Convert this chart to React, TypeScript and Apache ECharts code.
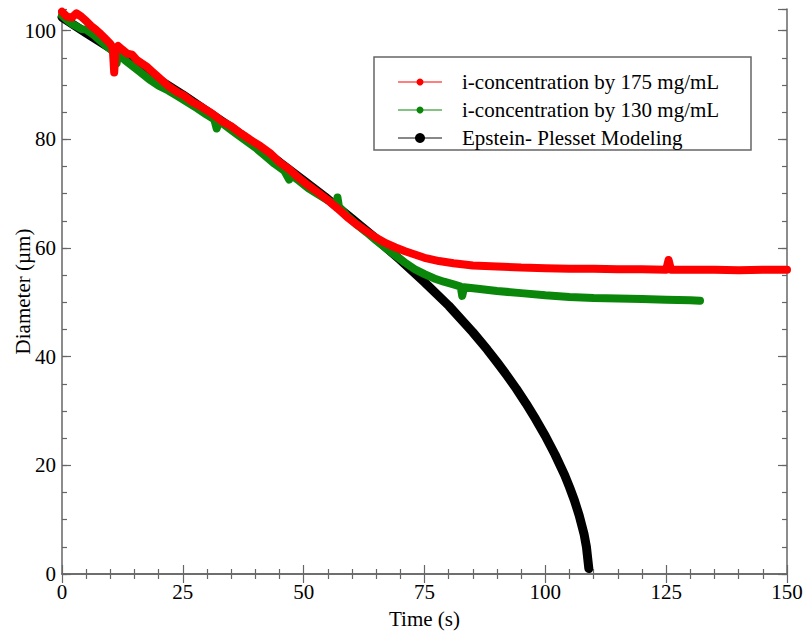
import React, { useEffect, useRef } from "react";
import * as echarts from "echarts";

// Epstein-Plesset model
const modelTime = [0, 5, 10, 15, 20, 25, 30, 35, 40, 45, 50, 55, 60, 65, 70, 75, 80, 85, 88, 90, 92, 94, 96, 98, 100, 102, 104, 105, 106, 107, 108, 108.5, 109];
const modelDiam = [102.5, 99.6, 96.8, 93.9, 91.0, 88.2, 85.2, 82.2, 79.0, 75.8, 72.4, 69.0, 65.4, 61.7, 57.8, 53.7, 49.4, 44.5, 41.3, 39.0, 36.6, 34.1, 31.4, 28.5, 25.4, 22.0, 18.2, 16.0, 13.6, 10.8, 7.4, 5.0, 1.0];

// i-concentration by 175 mg/mL
const redTime = [0, 1, 2, 3, 4, 5, 6, 7, 8, 9, 10, 10.5, 10.8, 11.1, 11.6, 12.5, 13.5, 14.5, 15.5, 16.5, 17.5, 18.5, 19.5, 21, 22, 23, 24, 25, 27, 29, 31, 33, 35, 37, 39, 41, 43, 45, 47, 49, 51, 53, 55, 57, 59, 61, 63, 65, 67, 69, 71, 73, 75, 78, 81, 85, 90, 95, 100, 105, 110, 115, 120, 125, 125.5, 126, 130, 135, 140, 145, 150];
const redDiam = [103.5, 102.6, 102.4, 103.2, 102.6, 101.8, 100.9, 100.2, 99.4, 98.5, 97.6, 96.8, 92.3, 96.8, 97.2, 96.5, 95.8, 95.6, 94.6, 94.0, 93.4, 92.6, 91.8, 90.6, 89.8, 89.2, 88.6, 88.2, 86.9, 85.9, 84.8, 83.4, 82.4, 81.1, 79.9, 78.8, 77.5, 75.8, 74.5, 72.9, 71.5, 70.2, 68.8, 67.3, 65.7, 64.3, 63.1, 61.9, 60.9, 60.1, 59.4, 58.8, 58.2, 57.6, 57.2, 56.8, 56.6, 56.4, 56.3, 56.2, 56.2, 56.1, 56.1, 56.0, 57.8, 56.0, 56.0, 56.0, 55.9, 56.0, 56.0];

// i-concentration by 130 mg/mL
const greenTime = [0, 1, 2, 3, 4, 5, 6, 7, 8, 9, 10, 11, 11.3, 11.6, 13, 15, 16, 18, 20, 22, 24, 26, 28, 30, 31.5, 32, 32.5, 34, 36, 38, 40, 42, 44, 46, 47, 47.5, 49, 51, 53, 55, 56.8, 57, 57.3, 59, 61, 63, 65, 67, 69, 71, 73, 75, 77, 79, 81, 82.5, 82.8, 83.2, 86, 90, 95, 100, 105, 110, 115, 120, 125, 130, 132];
const greenDiam = [102.8, 102.0, 101.3, 100.8, 100.3, 100.2, 99.6, 98.9, 98.1, 97.3, 96.6, 95.9, 94.0, 95.7, 94.6, 93.2, 92.5, 91.1, 89.9, 89.0, 87.9, 86.8, 85.7, 84.5, 83.7, 82.0, 83.4, 82.4, 81.1, 79.8, 78.5, 77.0, 75.5, 74.2, 72.6, 73.4, 72.4, 71.0, 69.9, 68.8, 67.9, 69.3, 67.6, 65.9, 64.3, 62.9, 61.4, 60.0, 58.6, 57.3, 56.1, 55.2, 54.4, 53.8, 53.3, 52.9, 51.2, 52.8, 52.5, 52.1, 51.7, 51.3, 51.0, 50.8, 50.7, 50.6, 50.5, 50.4, 50.3];

const xTicks = { min: 0, max: 150, interval: 25 };
const seriesNames = ["i-concentration by 175 mg/mL", "i-concentration by 130 mg/mL", "Epstein- Plesset Modeling"];

const pairs = (t: number[], v: number[]) => t.map((x, i) => [x, v[i]]);

const FONT = '"Liberation Serif", "Times New Roman", serif';
const AXIS_COLOR = "#666";

export default function App() {
  const ref = useRef<HTMLDivElement>(null);
  useEffect(() => {
    if (!ref.current) return;
    const chart = echarts.init(ref.current, undefined, { renderer: "svg" });
    const tickStyle = { color: AXIS_COLOR, width: 1.2 };
    const yBase = { type: "value", min: 0, max: 104, splitLine: { show: false } };
    const option: any = {
      animation: false,
      backgroundColor: "#fff",
      grid: { left: 62, right: 18, top: 9, bottom: 63, containLabel: false, outerBoundsMode: "none" },
      xAxis: [
        {
          type: "value",
          position: "bottom",
          min: xTicks.min,
          max: xTicks.max,
          interval: xTicks.interval,
          name: "Time (s)",
          nameLocation: "middle",
          nameGap: 34,
          nameMoveOverlap: false,
          nameTextStyle: { fontFamily: FONT, fontSize: 21, color: "#000" },
          axisLine: { show: true, lineStyle: { color: AXIS_COLOR, width: 1.5 } },
          axisTick: { show: true, inside: true, length: 9, lineStyle: tickStyle },
          minorTick: { show: true, splitNumber: 5, length: 5, lineStyle: tickStyle },
          axisLabel: { fontFamily: FONT, fontSize: 21, color: "#000", margin: 7 },
          splitLine: { show: false },
        },
        {
          type: "value",
          position: "top",
          min: xTicks.min,
          max: xTicks.max,
          interval: xTicks.interval,
          axisLine: { show: true, lineStyle: { color: AXIS_COLOR, width: 1.5 } },
          axisTick: { show: true, inside: true, length: 9, lineStyle: tickStyle },
          minorTick: { show: true, splitNumber: 5, length: 5, lineStyle: tickStyle },
          axisLabel: { show: false },
          splitLine: { show: false },
        },
      ],
      yAxis: [
        {
          ...yBase,
          position: "left",
          interval: 20,
          name: "Diameter (µm)",
          nameLocation: "middle",
          nameGap: 29,
          nameMoveOverlap: false,
          nameTextStyle: { fontFamily: FONT, fontSize: 21, color: "#000" },
          axisLine: { show: true, lineStyle: { color: AXIS_COLOR, width: 1.5 } },
          axisTick: { show: true, inside: true, length: 9, lineStyle: tickStyle },
          axisLabel: { fontFamily: FONT, fontSize: 21, color: "#000", margin: 6, showMaxLabel: false },
        },
        {
          ...yBase,
          position: "left",
          interval: 5,
          axisLine: { show: false },
          axisTick: { show: true, inside: true, length: 5, lineStyle: tickStyle },
          axisLabel: { show: false },
        },
        {
          ...yBase,
          position: "right",
          interval: 20,
          axisLine: { show: true, lineStyle: { color: AXIS_COLOR, width: 1.5 } },
          axisTick: { show: true, inside: true, length: 9, lineStyle: tickStyle },
          axisLabel: { show: false },
        },
        {
          ...yBase,
          position: "right",
          interval: 5,
          axisLine: { show: false },
          axisTick: { show: true, inside: true, length: 5, lineStyle: tickStyle },
          axisLabel: { show: false },
        },
      ],
      series: [
        {
          name: seriesNames[2],
          type: "line",
          data: pairs(modelTime, modelDiam),
          showSymbol: false,
          symbol: "none",
          smooth: false,
          lineStyle: { color: "#000", width: 9, cap: "round", join: "round" },
          z: 2,
        },
        {
          name: seriesNames[1],
          type: "line",
          data: pairs(greenTime, greenDiam),
          showSymbol: false,
          symbol: "none",
          lineStyle: { color: "#0a870a", width: 8, cap: "round", join: "round" },
          z: 3,
        },
        {
          name: seriesNames[0],
          type: "line",
          data: pairs(redTime, redDiam),
          showSymbol: false,
          symbol: "none",
          lineStyle: { color: "#ff0000", width: 8, cap: "round", join: "round" },
          z: 4,
        },
      ],
      graphic: [
        {
          type: "group",
          z: 100,
          children: [
            { type: "rect", shape: { x: 374, y: 57, width: 377, height: 93 }, style: { fill: "#fff", stroke: AXIS_COLOR, lineWidth: 1.5 } },
            { type: "line", shape: { x1: 398, y1: 82, x2: 442, y2: 82 }, style: { stroke: "#ff0000", lineWidth: 1.2 } },
            { type: "circle", shape: { cx: 420, cy: 82, r: 3.5 }, style: { fill: "#ff0000" } },
            { type: "text", x: 462, y: 82, style: { text: seriesNames[0], fontFamily: FONT, fontSize: 21, fill: "#000", verticalAlign: "middle" } },
            { type: "line", shape: { x1: 398, y1: 110, x2: 442, y2: 110 }, style: { stroke: "#0a870a", lineWidth: 1.2 } },
            { type: "circle", shape: { cx: 420, cy: 110, r: 3.5 }, style: { fill: "#0a870a" } },
            { type: "text", x: 462, y: 110, style: { text: seriesNames[1], fontFamily: FONT, fontSize: 21, fill: "#000", verticalAlign: "middle" } },
            { type: "line", shape: { x1: 398, y1: 138, x2: 442, y2: 138 }, style: { stroke: "#888", lineWidth: 2 } },
            { type: "circle", shape: { cx: 420, cy: 138, r: 5 }, style: { fill: "#000" } },
            { type: "text", x: 462, y: 138, style: { text: seriesNames[2], fontFamily: FONT, fontSize: 21, fill: "#000", verticalAlign: "middle" } },
          ],
        },
      ],
    };
    chart.setOption(option);
    return () => chart.dispose();
  }, []);
  return <div ref={ref} style={{ position: "fixed", left: 0, top: 0, width: 805, height: 637 }} />;
}
